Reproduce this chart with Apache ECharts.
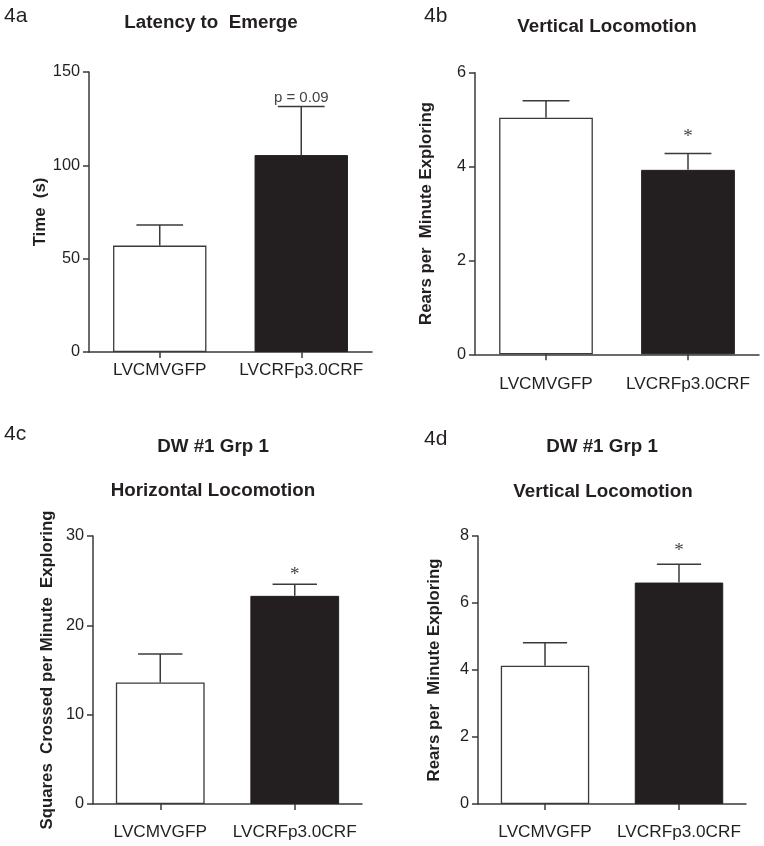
<!DOCTYPE html>
<html><head><meta charset="utf-8">
<script src="https://cdn.jsdelivr.net/npm/echarts@6/dist/echarts.min.js"></script>
<style>html,body{margin:0;padding:0;background:#fff}#c{width:764px;height:846px}</style>
</head><body><div id="c"></div>
<script>
// ---- data ----
const categories = ['LVCMVGFP', 'LVCRFp3.0CRF'];
const latencyMean = [57, 105.5];
const latencySem = [11, 26];
const vertBMean = [5.04, 3.93];
const vertBSem = [0.36, 0.35];
const horizMean = [13.6, 23.3];
const horizSem = [3.2, 1.3];
const vertDMean = [4.13, 6.61];
const vertDSem = [0.68, 0.55];
const yMaxA = 150, yStepA = 50;
const yMaxB = 6, yStepB = 2;
const yMaxC = 30, yStepC = 10;
const yMaxD = 8, yStepD = 2;
const notes = ['p = 0.09', '*', '*', '*'];

const TXT = '#231f20';
const FONT = "'Liberation Sans', Arial, sans-serif";
const STAR = {fontSize:19, fontFamily:"'Liberation Serif', serif"};
const panels = [
  {grid:{left:89, top:72, width:283, height:280}, mean:latencyMean, sem:latencySem, max:yMaxA, step:yStepA,
   name:'Time  (s)', nameGap:40, xMargin:10, note:notes[0], noteFont:{fontSize:15, fontFamily:FONT}, noteOff:9},
  {grid:{left:475, top:72.7, width:284, height:281.6}, mean:vertBMean, sem:vertBSem, max:yMaxB, step:yStepB,
   name:'Rears per  Minute Exploring', nameGap:40, xMargin:21, note:notes[1], noteFont:STAR, noteOff:16},
  {grid:{left:93, top:536, width:269, height:268}, mean:horizMean, sem:horizSem, max:yMaxC, step:yStepC,
   name:'Squares  Crossed per Minute  Exploring', nameGap:37, xMargin:20, note:notes[2], noteFont:STAR, noteOff:9},
  {grid:{left:478, top:536, width:268, height:268}, mean:vertDMean, sem:vertDSem, max:yMaxD, step:yStepD,
   name:'Rears per  Minute Exploring', nameGap:35, xMargin:20, note:notes[3], noteFont:STAR, noteOff:13}
];

const axisLine = {show:true, lineStyle:{color:'#3a3a3a', width:1.5}};
const option = {
  animation:false,
  backgroundColor:'#fff',
  grid: panels.map(p => p.grid),
  xAxis: panels.map((p,i) => ({
    type:'category', gridIndex:i, data:categories,
    axisLine, axisTick:{show:true, alignWithLabel:true, interval:0, length:6, lineStyle:{color:'#3a3a3a', width:1.5}},
    axisLabel:{color:TXT, fontSize:17.2, fontFamily:FONT, margin:p.xMargin, interval:0, hideOverlap:false},
    splitLine:{show:false}
  })),
  yAxis: panels.map((p,i) => ({
    type:'value', gridIndex:i, min:0, max:p.max, interval:p.step,
    axisLine, axisTick:{show:true, length:6, lineStyle:{color:'#3a3a3a', width:1.5}},
    axisLabel:{color:TXT, fontSize:16.3, fontFamily:FONT, margin:9},
    splitLine:{show:false},
    name:p.name, nameLocation:'middle', nameGap:p.nameGap,
    nameTextStyle:{color:TXT, fontSize:16.8, fontWeight:'bold', fontFamily:FONT}
  })),
  series: []
};
panels.forEach((p,i) => {
  option.series.push({
    type:'bar', xAxisIndex:i, yAxisIndex:i, barWidth:'66%',
    data: p.mean.map((v,k) => ({value:v, itemStyle: k===0
      ? {color:'#fff', borderColor:'#3a3a3a', borderWidth:1.3}
      : {color:'#231f20', borderColor:'#231f20', borderWidth:1}}))
  });
  option.series.push({
    type:'custom', xAxisIndex:i, yAxisIndex:i, z:5,
    data: p.mean.map((v,k) => [k, v, p.sem[k]]),
    encode:{x:0, y:1},
    renderItem:(params, api) => {
      const x = api.value(0), m = api.value(1), s = api.value(2);
      const b = api.coord([x, m]), t = api.coord([x, m + s]);
      const half = api.size([1, 0])[0] * 0.66 / 4;
      const st = {stroke:'#3a3a3a', lineWidth:1.5};
      const children = [
        {type:'line', shape:{x1:b[0], y1:b[1], x2:t[0], y2:t[1]}, style:st},
        {type:'line', shape:{x1:t[0]-half, y1:t[1], x2:t[0]+half, y2:t[1]}, style:st}
      ];
      if (params.dataIndex === 1) {
        children.push({type:'text', x:t[0], y:t[1]-p.noteOff,
          style:Object.assign({text:p.note, fill:'#444', align:'center', verticalAlign:'middle'}, p.noteFont)});
      }
      return {type:'group', children};
    }
  });
});
const T = (text, x, y, size, bold) => ({type:'text', x, y, style:{text, fill:TXT, fontSize:size,
  fontWeight:bold?'bold':'normal', fontFamily:FONT, align:bold?'center':'left', verticalAlign:'middle'}});
option.graphic = [
  T('4a', 4, 16, 21, false), T('4b', 424, 16, 21, false),
  T('4c', 4, 434, 21, false), T('4d', 424, 439, 21, false),
  T('Latency to  Emerge', 211, 23, 18.8, true),
  T('Vertical Locomotion', 607, 27, 18.8, true),
  T('DW #1 Grp 1', 213, 447, 18.8, true), T('Horizontal Locomotion', 213, 491, 18.8, true),
  T('DW #1 Grp 1', 602, 447, 18.8, true), T('Vertical Locomotion', 603, 492, 18.8, true)
];
echarts.init(document.getElementById('c')).setOption(option);
</script></body></html>
